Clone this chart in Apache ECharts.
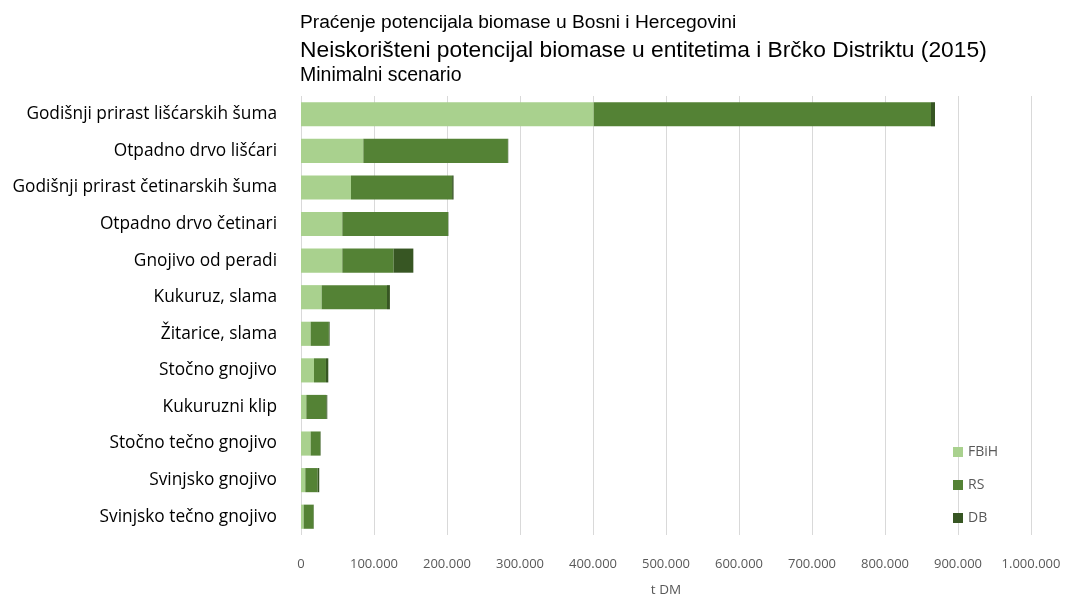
<!DOCTYPE html>
<html>
<head>
<meta charset="utf-8">
<script src="https://cdn.jsdelivr.net/npm/echarts@6/dist/echarts.min.js"></script>
<style>
  html, body { margin: 0; padding: 0; background: #fff; }
  #chart { width: 1069px; height: 598px; }
</style>
</head>
<body>
<div id="chart"></div>
<script>
// Unused biomass potential by entity, minimal scenario (t DM)
const categories = [
  'Godišnji prirast lišćarskih šuma',
  'Otpadno drvo lišćari',
  'Godišnji prirast četinarskih šuma',
  'Otpadno drvo četinari',
  'Gnojivo od peradi',
  'Kukuruz, slama',
  'Žitarice, slama',
  'Stočno gnojivo',
  'Kukuruzni klip',
  'Stočno tečno gnojivo',
  'Svinjsko gnojivo',
  'Svinjsko tečno gnojivo'
];
const fbih = [401000, 85400, 68500, 56600, 56600, 28300, 13200, 17800, 7300, 13200, 5900, 3600];
const rs   = [462000, 198000, 138500, 144800, 70400, 89500, 25000, 16400, 27400, 13300, 16900, 13700];
const db   = [5500, 500, 2000, 500, 26900, 4000, 1000, 3200, 1300, 500, 2200, 300];
const xTicks = { min: 0, max: 1000000, interval: 100000 };

const seriesNames = ['FBiH', 'RS', 'DB'];
const seriesColors = ['#A9D18E', '#548235', '#375623'];
const seriesData = [fbih, rs, db];

const fontFam = '"Liberation Sans", Arial, sans-serif';
const labelFam = '"Open Sans", "Noto Sans", sans-serif';

function thousands(v) {
  return String(v).replace(/\B(?=(\d{3})+(?!\d))/g, '.');
}

const chart = echarts.init(document.getElementById('chart'));
chart.setOption({
  animation: false,
  backgroundColor: '#ffffff',
  title: [
    { text: 'Praćenje potencijala biomase u Bosni i Hercegovini', left: 295, top: 8,
      textStyle: { fontFamily: fontFam, fontSize: 19.2, fontWeight: 'normal', color: '#000' } },
    { text: 'Neiskorišteni potencijal biomase u entitetima i Brčko Distriktu (2015)', left: 295, top: 34,
      textStyle: { fontFamily: fontFam, fontSize: 22.8, fontWeight: 'normal', color: '#000' } },
    { text: 'Minimalni scenario', left: 295, top: 61,
      textStyle: { fontFamily: fontFam, fontSize: 19.5, fontWeight: 'normal', color: '#000' } }
  ],
  legend: {
    orient: 'vertical',
    left: 948,
    top: 440,
    itemGap: 19,
    itemWidth: 10,
    itemHeight: 10,
    icon: 'rect',
    data: seriesNames,
    textStyle: { fontFamily: labelFam, fontSize: 14, color: '#595959' }
  },
  grid: { left: 301, right: 38, top: 96, bottom: 63, containLabel: false, outerBoundsMode: 'none' },
  xAxis: {
    type: 'value',
    min: xTicks.min,
    max: xTicks.max,
    interval: xTicks.interval,
    name: 't DM',
    nameLocation: 'middle',
    nameGap: 48,
    nameTextStyle: { fontFamily: labelFam, fontSize: 13.5, color: '#595959' },
    axisLine: { show: false },
    axisTick: { show: false },
    axisLabel: { margin: 23, fontFamily: labelFam, fontSize: 13, color: '#595959', formatter: thousands },
    splitLine: { show: true, lineStyle: { color: '#d9d9d9', width: 1 } }
  },
  yAxis: {
    type: 'category',
    data: categories,
    inverse: true,
    axisLine: { show: false },
    axisTick: { show: false },
    axisLabel: { margin: 24, fontFamily: labelFam, fontSize: 17.3, color: '#000' }
  },
  series: seriesNames.map((name, i) => ({
    name: name,
    type: 'bar',
    stack: 'total',
    barCategoryGap: '34%',
    data: seriesData[i],
    itemStyle: { color: seriesColors[i] }
  }))
});
</script>
</body>
</html>
